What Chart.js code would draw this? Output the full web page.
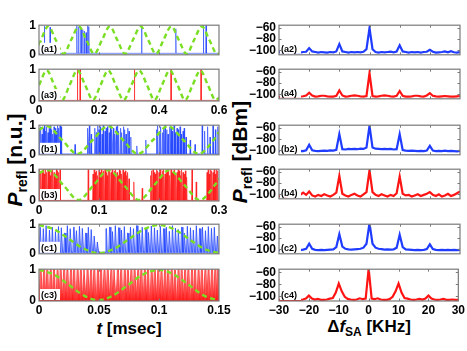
<!DOCTYPE html>
<html><head><meta charset="utf-8">
<script src="https://cdn.jsdelivr.net/npm/chart.js@4.4.1/dist/chart.umd.min.js"></script>
<style>
body{margin:0;background:#fff;width:467px;height:351px;overflow:hidden;position:relative;font-family:"Liberation Sans",Arial,sans-serif;}
canvas{position:absolute;}
.title{position:absolute;font-weight:bold;font-size:17px;white-space:nowrap;color:#000;line-height:1;}
.title sub{font-size:12px;vertical-align:-4px;}
.vt{transform:translate(-50%,-50%) rotate(-90deg);font-size:21px;}
.vt sub{font-size:14px;vertical-align:-5px;}
.ht{transform:translate(-50%,-50%);}
</style></head><body>
<div class="title vt" style="left:16px;top:160px"><i>P</i><sub>refl</sub> [n.u.]</div>
<div class="title vt" style="left:241px;top:152px"><i>P</i><sub>refl</sub> [dBm]</div>
<div class="title ht" style="left:129px;top:328px"><i>t</i> [msec]</div>
<div class="title ht" style="left:369px;top:328px">&Delta;<i>f</i><sub>SA</sub> [KHz]</div>
<script>
// ---------- tick values / labels ----------
const T_TICKS_A = [0, 0.2, 0.4, 0.6];
const T_LABELS_A = ['0', '0.2', '0.4', '0.6'];
const T_TICKS_B = [0, 0.1, 0.2, 0.3];
const T_LABELS_B = ['0', '0.1', '0.2', '0.3'];
const T_TICKS_C = [0, 0.05, 0.1, 0.15];
const T_LABELS_C = ['0', '0.05', '0.1', '0.15'];
const F_TICKS = [-30, -20, -10, 0, 10, 20, 30];
const F_LABELS = ['\u221230', '\u221220', '\u221210', '0', '10', '20', '30'];
const Y_TICKS_NU = [0, 1];
const Y_LABELS_NU = ['0', '1'];
const Y_TICKS_DBM = [-100, -80, -60];
const Y_LABELS_DBM = ['\u2212100', '\u221280', '\u221260'];

// ---------- spectra (dBm) at FREQ (kHz) ----------
const FREQ = [-30,-29,-28,-27,-26,-25,-24,-23,-22,-21,-20,-19,-18,-17,-16,-15,-14,-13,-12,-11,-10,-9,-8,-7,-6,-5,-4,-3,-2,-1,0,1,2,3,4,5,6,7,8,9,10,11,12,13,14,15,16,17,18,19,20,21,22,23,24,25,26,27,28,29,30];
const A2_DBM = [-103,-104,-103,-104,-103,-104,-103.5,-104,-103,-102.5,-96,-102,-103,-104,-103,-103.5,-104,-103,-103.5,-102,-89,-102,-103,-104,-103,-103.5,-103,-103.5,-102.5,-98,-60,-98,-103,-104,-103,-103.5,-103,-102.5,-103.5,-102,-91,-102,-103,-104,-103,-103.5,-103,-104,-103,-102.5,-99,-102.5,-104,-103.5,-103,-102,-103.5,-101.5,-103.5,-104,-103];
const A4_DBM = [-104.5,-104,-104.5,-104,-104,-104.5,-104,-104,-103.5,-102,-97,-102,-104,-103.5,-102.5,-102.5,-103.5,-104,-104,-102.5,-93,-102,-104,-103.5,-102.5,-102,-102.5,-103.5,-104,-103,-62,-103,-104,-103.5,-102.5,-102,-102.5,-103.5,-104,-102.5,-94,-102.5,-104,-104,-103.5,-102.5,-102.5,-103.5,-104,-102,-98,-102.5,-103.5,-104,-103.5,-103,-103.5,-104,-104,-103.5,-103];
const B2_DBM = [-101.5,-101,-102,-101.5,-101,-102,-101.5,-101,-101.5,-100,-90,-100,-101,-101.5,-101,-100.5,-101,-100,-100.5,-99,-71,-98,-98.5,-97.5,-98,-97.5,-98,-97,-97.5,-95,-56,-95,-97,-97.5,-98,-97.5,-98,-97.5,-98.5,-98,-71,-99.5,-100.5,-101,-100.5,-101,-101.5,-101,-101.5,-100.5,-92,-100.5,-101.5,-101,-101.5,-100.5,-101.5,-101,-101.5,-102,-101];
const B4_DBM = [-104,-102,-105,-103,-101,-104,-102,-101,-97,-101,-95,-102,-104,-101,-103,-100,-102,-104,-101,-97,-67,-99,-102,-104,-101,-99,-102,-104,-100,-96,-57,-96,-101,-103,-100,-102,-104,-101,-103,-98,-68,-99,-102,-101,-104,-102,-100,-103,-101,-99,-96,-101,-103,-100,-104,-102,-99,-103,-101,-98,-95];
const C2_DBM = [-101.5,-101,-101.5,-102,-101,-101.5,-101,-101.5,-100.5,-99,-90,-99,-101,-101.5,-101,-101.5,-101,-100.5,-100,-96,-73,-95,-99,-100,-100.5,-100,-99.5,-99,-97,-90,-53,-90,-97,-99,-99.5,-100.5,-100,-100.5,-100,-97,-74,-96,-100,-100.5,-101,-101.5,-101,-101.5,-101,-99.5,-91,-99.5,-101,-101.5,-101,-101.5,-101,-101.5,-101,-101.5,-101];
const C4_DBM = [-106,-106,-106,-106,-106,-106,-106,-106,-105.5,-104,-99,-104,-105.5,-104.5,-106,-106,-105.5,-104,-103,-94,-79,-92,-101,-104.5,-105.5,-106,-105.5,-103.5,-105,-104,-54,-104,-105,-103.5,-105.5,-106,-106,-105,-101,-92,-79,-94,-103,-104,-105.5,-106,-105.5,-104.5,-105.5,-104,-99,-104,-105.5,-106,-105.5,-104.5,-106,-106,-105.5,-106,-106];

// ---------- modulation (green dashed), [t msec, n.u.] ----------
const GREEN_A1 = [[0,0.33],[0.031,0.96],[0.056,0.5],[0.082,0.03],[0.107,0.5],[0.133,0.96],[0.158,0.5],[0.184,0.03],[0.21,0.5],[0.236,0.96],[0.261,0.5],[0.287,0.03],[0.313,0.5],[0.339,0.96],[0.364,0.5],[0.39,0.03],[0.415,0.5],[0.441,0.96],[0.466,0.5],[0.492,0.03],[0.517,0.5],[0.543,0.96],[0.568,0.5],[0.594,0.03],[0.6,0.04]];
const GREEN_A3 = [[0,0.5],[0.026,0.96],[0.051,0.5],[0.077,0.03],[0.102,0.5],[0.128,0.96],[0.154,0.5],[0.18,0.03],[0.205,0.5],[0.231,0.96],[0.256,0.5],[0.282,0.03],[0.308,0.5],[0.334,0.96],[0.36,0.5],[0.385,0.03],[0.41,0.5],[0.436,0.96],[0.462,0.5],[0.487,0.03],[0.512,0.5],[0.538,0.96],[0.563,0.5],[0.589,0.03],[0.6,0.1]];
const GREEN_B1 = [[0,0.84],[0.013,0.97],[0.0385,0.5],[0.064,0.03],[0.0895,0.5],[0.115,0.97],[0.14,0.5],[0.165,0.03],[0.19,0.5],[0.215,0.97],[0.2405,0.5],[0.266,0.03],[0.291,0.5],[0.3,0.77]];
const GREEN_B3 = [[0,0.88],[0.015,0.97],[0.0405,0.5],[0.066,0.03],[0.091,0.5],[0.116,0.97],[0.1415,0.5],[0.167,0.03],[0.192,0.5],[0.217,0.97],[0.2425,0.5],[0.268,0.03],[0.293,0.5],[0.3,0.71]];
const GREEN_C1 = [[0,0.97],[0.0125,0.83],[0.025,0.5],[0.0375,0.17],[0.05,0.02],[0.0625,0.17],[0.075,0.5],[0.0875,0.83],[0.1,0.97],[0.1125,0.83],[0.125,0.5],[0.1375,0.17],[0.15,0.02]];
const GREEN_C3 = [[0,0.98],[0.0125,0.83],[0.025,0.5],[0.0375,0.17],[0.049,0.02],[0.0615,0.17],[0.074,0.5],[0.0865,0.83],[0.1,0.98],[0.1125,0.83],[0.125,0.5],[0.1375,0.17],[0.149,0.02]];

// ---------- reflected power spikes, [t msec, n.u.] ----------
const A1_SPIKES = [[0.018,0.97],[0.037,0.93],[0.126,1.0],[0.132,0.95],[0.14,0.88],[0.146,0.85],[0.151,0.8],[0.157,0.75],[0.162,1.0],[0.166,0.95],[0.342,0.92],[0.456,0.88],[0.548,1.0],[0.557,1.0]];
const A3_SPIKES = [[0.128,1.0],[0.137,1.0],[0.318,1.0],[0.44,1.0],[0.54,1.0]];
const B1_SPIKES = [[0.001,0.85],[0.003,0.95],[0.005,0.7],[0.007,0.9],[0.009,1.0],[0.011,0.8],[0.013,0.95],[0.015,0.75],[0.017,0.9],[0.019,1.0],[0.021,0.85],[0.023,0.7],[0.025,0.95],[0.027,0.9],[0.029,0.8],[0.031,1.0],[0.033,0.9],[0.035,1.0],[0.037,0.95],
 [0.06,0.35],[0.081,0.9],[0.084,1.0],[0.087,0.7],
 [0.093,0.9],[0.0955,0.75],[0.098,1.0],[0.1,0.85],[0.102,0.95],[0.105,0.7],[0.107,1.0],[0.11,0.8],[0.112,0.9],[0.114,0.95],[0.117,0.75],[0.119,1.0],[0.121,0.85],[0.124,0.9],[0.126,0.7],[0.129,0.95],[0.131,1.0],[0.133,0.8],[0.136,0.9],[0.138,0.75],[0.141,0.95],[0.143,0.85],[0.145,0.7],[0.148,0.9],[0.15,0.8],[0.153,0.6],
 [0.163,0.3],[0.178,0.5],
 [0.196,0.85],[0.198,1.0],[0.201,0.8],[0.203,0.95],[0.206,0.75],[0.208,0.9],[0.21,1.0],[0.213,0.85],[0.215,0.7],[0.218,0.95],[0.22,0.9],[0.222,0.8],[0.225,1.0],[0.227,0.75],[0.23,0.9],[0.232,0.85],[0.235,0.95],[0.237,0.7],[0.24,0.8],[0.242,0.9],[0.245,0.6],
 [0.252,0.5],[0.26,0.35],
 [0.272,1.0],[0.276,0.8],[0.281,0.95],[0.285,0.6],[0.29,1.0],[0.294,0.85],[0.298,0.95]];
const B3_SPIKES = [[0.001,1],[0.003,0.9],[0.005,0.95],[0.007,1],[0.009,0.85],[0.011,1],[0.013,0.9],[0.015,0.95],[0.017,1],[0.019,0.8],[0.021,0.95],[0.023,1],[0.025,0.9],[0.027,0.85],[0.029,1],[0.031,0.95],[0.033,0.9],[0.035,1],
 [0.082,1],
 [0.09,0.85],[0.092,1],[0.094,0.9],[0.096,0.95],[0.098,0.8],[0.1,1],[0.102,0.9],[0.104,1],[0.106,0.85],[0.108,0.95],[0.11,1],[0.112,0.9],[0.114,0.8],[0.116,1],[0.118,0.95],[0.12,0.9],[0.122,1],[0.124,0.85],[0.126,0.95],[0.128,1],[0.13,0.9],[0.132,0.8],[0.134,1],[0.136,0.95],[0.138,0.85],[0.14,1],[0.142,0.9],[0.144,0.95],[0.146,0.8],[0.148,0.9],[0.15,0.7],
 [0.158,0.6],[0.172,0.4],
 [0.186,0.8],[0.188,0.95],[0.19,1],[0.192,0.9],[0.194,0.85],[0.196,1],[0.198,0.95],[0.2,0.9],[0.202,1],[0.204,0.8],[0.206,0.95],[0.208,1],[0.21,0.85],[0.212,0.9],[0.214,1],[0.216,0.95],[0.218,0.8],[0.22,1],[0.222,0.9],[0.224,0.95],[0.226,1],[0.228,0.85],[0.23,0.9],[0.232,1],[0.234,0.95],[0.236,0.8],[0.238,1],[0.24,0.9],[0.242,0.85],[0.244,0.95],[0.246,0.75],
 [0.255,1],[0.262,0.6],
 [0.28,0.9],[0.282,1],[0.284,0.85],[0.286,1],[0.288,0.95],[0.29,0.9],[0.292,1],[0.294,0.85],[0.296,1],[0.298,0.95]];
const C1_SPIKES = [[0.0012,0.9],[0.0038,0.85],[0.0061,0.95],[0.0089,0.8],[0.0113,0.9],[0.0139,0.75],[0.0164,0.92],[0.0188,0.88],[0.0215,0.7],[0.0238,0.95],
 [0.0262,0.85],[0.0291,0.9],[0.0314,0.78],[0.0339,0.93],[0.0363,0.86],[0.039,0.7],[0.0413,0.9],[0.0437,0.82],[0.0462,0.6],[0.0488,0.4],
 [0.056,0.85],[0.059,0.9],[0.0614,0.75],[0.0638,0.95],[0.0665,0.88],[0.0689,0.8],[0.0713,0.92],[0.074,0.7],[0.0764,0.9],[0.0789,0.85],
 [0.0815,0.95],[0.0839,0.78],[0.0862,0.9],[0.089,0.86],[0.0914,0.72],[0.0938,0.94],[0.0964,0.88],[0.0988,0.8],[0.1013,0.93],[0.104,0.85],
 [0.1063,0.9],[0.1088,0.76],[0.1114,0.95],[0.1139,0.87],[0.1163,0.82],[0.119,0.9],[0.1213,0.7],[0.1238,0.93],[0.1264,0.88],[0.1288,0.8],
 [0.1313,0.95],[0.134,0.85],[0.1364,0.9],[0.1389,0.78],[0.1413,0.92],[0.1439,0.86],[0.1463,0.9],[0.1488,0.6]];
const C3_SPIKES = [[0.0014,1],[0.0043,1],[0.0069,0.98],[0.0098,1],[0.0125,1],[0.0155,0.97],[0.0181,1],[0.021,1],[0.0237,0.98],[0.0267,1],
 [0.0293,1],[0.0322,1],[0.0349,0.97],[0.0379,1],[0.0405,1],[0.0434,0.98],[0.0461,1],[0.0491,1],[0.0517,1],[0.0546,0.97],
 [0.0573,1],[0.0603,1],[0.0629,0.98],[0.0658,1],[0.0685,1],[0.0715,1],[0.0741,0.97],[0.077,1],[0.0797,1],[0.0827,0.98],
 [0.0853,1],[0.0882,1],[0.0909,1],[0.0939,0.97],[0.0965,1],[0.0994,1],[0.1021,0.98],[0.1051,1],[0.1077,1],[0.1106,1],
 [0.1133,0.97],[0.1163,1],[0.1189,1],[0.1218,0.98],[0.1245,1],[0.1275,1],[0.1301,1],[0.133,0.97],[0.1357,1],[0.1387,1],
 [0.1413,0.98],[0.1442,1],[0.1469,1],[0.149,1]];

// ---------- styling ----------
const BLUE = '#1f3cff', RED = '#ff1414', GREEN = '#7ade22';
const FONT_TICK = {family: '"Liberation Sans", Arial, sans-serif', size: 12, weight: 'bold'};
const ROW_TOP = [23, 67, 123, 167, 222, 267];
const PLOT_H = 34;

const framePlugin = {
  id: 'frame',
  afterDatasetsDraw(chart, args, o) {
    const ctx = chart.ctx, a = chart.chartArea, xs = chart.scales.x, ys = chart.scales.y;
    ctx.save();
    ctx.fillStyle = '#fff';
    ctx.fillRect(a.left + 1, a.bottom - 12, o.boxW, 11);
    ctx.fillStyle = '#000';
    ctx.font = 'bold 9px "Liberation Sans", Arial, sans-serif';
    ctx.textBaseline = 'alphabetic';
    ctx.fillText(o.label, a.left + 2, a.bottom - 3);
    ctx.strokeStyle = '#7a7a7a';
    ctx.lineWidth = 1.2;
    ctx.strokeRect(a.left, a.top, a.right - a.left, a.bottom - a.top);
    ctx.lineWidth = 1;
    ctx.beginPath();
    o.xt.forEach(v => {
      if (v <= xs.min || v >= xs.max) return;
      const px = Math.round(xs.getPixelForValue(v)) + 0.5;
      ctx.moveTo(px, a.top); ctx.lineTo(px, a.top + 2.5);
      ctx.moveTo(px, a.bottom); ctx.lineTo(px, a.bottom - 2.5);
    });
    o.yt.forEach(v => {
      if (v <= ys.min || v >= ys.max) return;
      const py = Math.round(ys.getPixelForValue(v)) + 0.5;
      ctx.moveTo(a.left, py); ctx.lineTo(a.left + 2.5, py);
      ctx.moveTo(a.right, py); ctx.lineTo(a.right - 2.5, py);
    });
    ctx.stroke();
    ctx.restore();
  }
};
Chart.register(framePlugin);

// spike outline: base -> narrow top -> base
function spikePoints(spikes, base, eps, topEps, xmin, xmax) {
  const pts = [{x: xmin, y: base}];
  spikes.forEach(([t, h]) => {
    pts.push({x: t - eps, y: base});
    if (topEps > 0) pts.push({x: t - topEps, y: h}, {x: t + topEps, y: h});
    else pts.push({x: t, y: h});
    pts.push({x: t + eps, y: base});
  });
  pts.push({x: xmax, y: base});
  return pts;
}

// vertical gradient fill (dense at bottom, lighter at top)
function gradFill(rgb, aBottom, aTop) {
  return (c) => {
    const a = c.chart.chartArea;
    if (!a) return `rgba(${rgb},${aBottom})`;
    const g = c.chart.ctx.createLinearGradient(0, a.bottom, 0, a.top);
    g.addColorStop(0, `rgba(${rgb},${aBottom})`);
    g.addColorStop(1, `rgba(${rgb},${aTop})`);
    return g;
  };
}

function makePanel(p) {
  const col = p.col === 0 ? {cl: 0, cw: 236, aw: 39, pr: 17, bw: 20} : {cl: 238, cw: 229, aw: 41, pr: 7, bw: 21};
  const padT = 8, xh = 17;
  const padB = p.xLabels ? 0 : 8;
  const h = padT + PLOT_H + (p.xLabels ? xh : padB);
  const cv = document.createElement('canvas');
  cv.width = col.cw; cv.height = h;
  cv.style.left = col.cl + 'px'; cv.style.top = (ROW_TOP[p.row] - padT) + 'px';
  cv.style.width = col.cw + 'px'; cv.style.height = h + 'px';
  document.body.appendChild(cv);
  new Chart(cv, {
    type: 'scatter',
    data: {datasets: p.datasets},
    options: {
      responsive: false, animation: false, devicePixelRatio: 1, events: [],
      layout: {padding: {left: 0, right: col.pr, top: padT, bottom: padB}},
      plugins: {legend: {display: false}, tooltip: {enabled: false},
        frame: {label: p.label, xt: p.xt, yt: p.yt, boxW: col.bw}},
      scales: {
        x: {type: 'linear', min: p.xmin, max: p.xmax, display: p.xLabels,
          afterBuildTicks: s => { s.ticks = p.xt.map(v => ({value: v})); },
          afterFit: s => { s.height = p.xLabels ? xh : 0; },
          ticks: {autoSkip: false, maxRotation: 0, padding: 2, color: '#000', font: FONT_TICK,
            callback: (v, i) => p.xl[i]},
          grid: {display: false, drawTicks: false}, border: {display: false}},
        y: {type: 'linear', min: p.ymin, max: p.ymax,
          afterBuildTicks: s => { s.ticks = p.yt.map(v => ({value: v})); },
          afterFit: s => { s.width = col.aw; },
          ticks: {autoSkip: false, padding: 3, color: '#000', font: FONT_TICK,
            callback: (v, i) => p.yl[i]},
          grid: {display: false, drawTicks: false}, border: {display: false}}
      }
    }
  });
}

function timePanel(row, label, xmin, xmax, xt, xl, xLabels, spikes, base, eps, topEps, color, fill, green) {
  const ds = [
    {data: green.map(([t, v]) => ({x: t, y: v})), showLine: true, pointRadius: 0,
     borderColor: GREEN, borderWidth: 2.4, borderDash: [5, 3.5], cubicInterpolationMode: 'monotone', order: 0},
    {data: spikePoints(spikes, base, eps, topEps, xmin, xmax), showLine: true, pointRadius: 0,
     borderColor: color, borderWidth: 1, fill: fill ? 'origin' : false,
     backgroundColor: fill || 'transparent', order: 1}
  ];
  makePanel({col: 0, row, label, xmin, xmax, xt, xl, xLabels, ymin: 0, ymax: 1,
    yt: Y_TICKS_NU, yl: Y_LABELS_NU, datasets: ds});
}

function specPanel(row, label, values, color, xLabels) {
  const ds = [{data: FREQ.map((f, i) => ({x: f, y: values[i]})), showLine: true, pointRadius: 0,
    borderColor: color, borderWidth: 2.2, order: 0}];
  makePanel({col: 1, row, label, xmin: -30, xmax: 30, xt: F_TICKS, xl: F_LABELS, xLabels,
    ymin: -108, ymax: -55, yt: Y_TICKS_DBM, yl: Y_LABELS_DBM, datasets: ds});
}

const BL = 'rgba(30,65,255,0.6)', RL = 'rgba(255,20,20,0.6)';
timePanel(0, '(a1)', 0, 0.6, T_TICKS_A, T_LABELS_A, false, A1_SPIKES, 0.05, 0.001, 0, BL, null, GREEN_A1);
timePanel(1, '(a3)', 0, 0.6, T_TICKS_A, T_LABELS_A, true, A3_SPIKES, 0.02, 0.001, 0, RL, null, GREEN_A3);
timePanel(2, '(b1)', 0, 0.3, T_TICKS_B, T_LABELS_B, false, B1_SPIKES, 0.03, 0.0007, 0, BL, gradFill('30,65,255', 0.3, 0.05), GREEN_B1);
timePanel(3, '(b3)', 0, 0.3, T_TICKS_B, T_LABELS_B, true, B3_SPIKES, 0.02, 0.0008, 0, RL, gradFill('255,20,20', 0.45, 0.1), GREEN_B3);
timePanel(4, '(c1)', 0, 0.15, T_TICKS_C, T_LABELS_C, false, C1_SPIKES, 0.05, 0.0009, 0.0002, 'rgba(30,65,255,0.75)', gradFill('30,65,255', 0.55, 0.15), GREEN_C1);
timePanel(5, '(c3)', 0, 0.15, T_TICKS_C, T_LABELS_C, true, C3_SPIKES, 0.02, 0.0013, 0.0004, 'rgba(255,20,20,0.7)', gradFill('255,20,20', 0.95, 0.35), GREEN_C3);

specPanel(0, '(a2)', A2_DBM, BLUE, false);
specPanel(1, '(a4)', A4_DBM, RED, false);
specPanel(2, '(b2)', B2_DBM, BLUE, false);
specPanel(3, '(b4)', B4_DBM, RED, false);
specPanel(4, '(c2)', C2_DBM, BLUE, false);
specPanel(5, '(c4)', C4_DBM, RED, true);
</script>
</body></html>
